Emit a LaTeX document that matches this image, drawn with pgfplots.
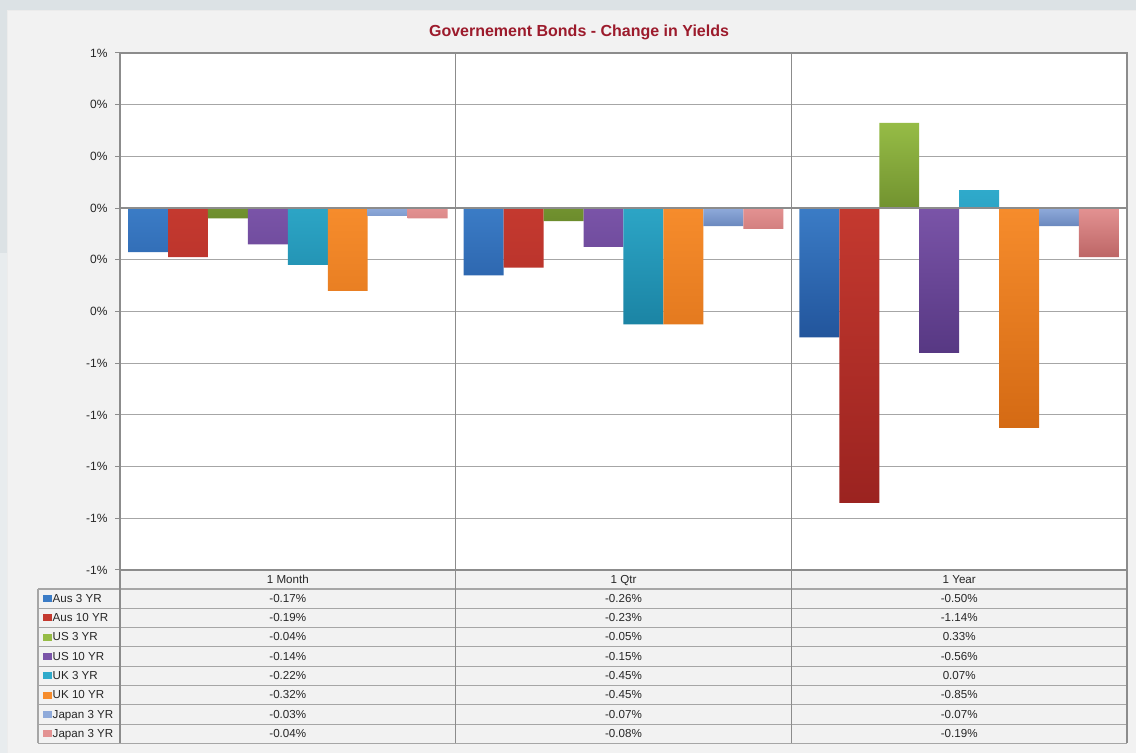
\documentclass[border=0pt]{standalone}
\usepackage{pgfplots}
\pgfplotsset{compat=1.18}
\usepackage{pgfplotstable}
\usepackage{fontspec}
\setmainfont{Liberation Sans}

\definecolor{outerbg}{HTML}{DCE2E5}
\definecolor{outerlow}{HTML}{E8ECEE}
\definecolor{chartbg}{HTML}{F2F2F2}
\definecolor{gridc}{HTML}{A6A6A6}
\definecolor{axisc}{HTML}{8C8C8C}
\definecolor{titlec}{HTML}{9C1B2C}
\definecolor{ausA}{HTML}{3B7CC6}\definecolor{ausB}{HTML}{22559C}
\definecolor{ausTA}{HTML}{C4392F}\definecolor{ausTB}{HTML}{9B2320}
\definecolor{usA}{HTML}{96BC46}\definecolor{usB}{HTML}{6C8C2C}
\definecolor{usTA}{HTML}{7A54A8}\definecolor{usTB}{HTML}{573883}
\definecolor{ukA}{HTML}{2FAACB}\definecolor{ukB}{HTML}{1B84A4}
\definecolor{ukTA}{HTML}{F68C2C}\definecolor{ukTB}{HTML}{D46A14}
\definecolor{jpA}{HTML}{8FAADA}\definecolor{jpB}{HTML}{6A88BE}
\definecolor{jpTA}{HTML}{E39292}\definecolor{jpTB}{HTML}{BD6666}

\pgfplotstableread{
cat aus3 aus10 us3 us10 uk3 uk10 jp3 jp3b
0 -0.17 -0.19 -0.04 -0.14 -0.22 -0.32 -0.03 -0.04
1 -0.26 -0.23 -0.05 -0.15 -0.45 -0.45 -0.07 -0.08
2 -0.50 -1.14 0.33 -0.56 0.07 -0.85 -0.07 -0.19
}\datatable

\begin{document}
\begin{tikzpicture}[x=1pt,y=1pt]
\useasboundingbox (0,0) rectangle (1136,753);
\fill[outerbg] (0,0) rectangle (1136,753);
\fill[outerlow] (0,0) rectangle (7,500);
\fill[chartbg] (7,0) rectangle (1136,743);
\draw[white!85!gray, line width=0.6pt] (7,0) -- (7,743) -- (1136,743);
\node[font=\bfseries\fontsize{16}{18}\selectfont, text=titlec] at (579,721) {Governement Bonds - Change in Yields};

\begin{axis}[
  at={(120pt,183pt)}, anchor=south west,
  scale only axis, width=1007pt, height=517pt,
  xmin=-0.5, xmax=2.5, ymin=-1.4, ymax=0.6,
  axis background/.style={fill=white},
  xtick=\empty,
  ytick={-1.4,-1.2,-1,-0.8,-0.6,-0.4,-0.2,0,0.2,0.4,0.6},
  yticklabels={-1\%,-1\%,-1\%,-1\%,-1\%,0\%,0\%,0\%,0\%,0\%,1\%},
  ytick pos=left, tick align=outside, major tick length=5pt,
  ytick style={draw=axisc, line width=1pt},
  yticklabel style={font=\fontsize{12}{14}\selectfont, text=black!85, xshift=-4pt},
  ymajorgrids, grid style={draw=gridc, line width=1pt},
  axis line style={draw=axisc, line width=1.3pt},
  ybar=0pt, bar width=0.119,
  clip=false,
]
\addplot[draw=none, top color=ausA, bottom color=ausB] table[x=cat,y=aus3]{\datatable};
\addplot[draw=none, top color=ausTA, bottom color=ausTB] table[x=cat,y=aus10]{\datatable};
\addplot[draw=none, top color=usA, bottom color=usB] table[x=cat,y=us3]{\datatable};
\addplot[draw=none, top color=usTA, bottom color=usTB] table[x=cat,y=us10]{\datatable};
\addplot[draw=none, top color=ukA, bottom color=ukB] table[x=cat,y=uk3]{\datatable};
\addplot[draw=none, top color=ukTA, bottom color=ukTB] table[x=cat,y=uk10]{\datatable};
\addplot[draw=none, top color=jpA, bottom color=jpB] table[x=cat,y=jp3]{\datatable};
\addplot[draw=none, top color=jpTA, bottom color=jpTB] table[x=cat,y=jp3b]{\datatable};
\draw[axisc, line width=1.3pt] (axis cs:-0.5,0) -- (axis cs:2.5,0);
\end{axis}

% data table
\def\rh{19.3}
\begin{scope}[font=\fontsize{11.6}{13}\selectfont, every node/.style={text height=8.6pt, text depth=2.4pt, inner sep=0pt, text=black!85}]
\draw[axisc, line width=1.3pt] (120,183) -- (1127,183);
\foreach \i in {0,...,8}{
  \draw[gridc, line width=1.1pt] (38,{164-\i*\rh}) -- (1127,{164-\i*\rh});
}
\draw[gridc, line width=1.1pt] (38,164) -- (38,{164-8*\rh});
\draw[axisc, line width=1.3pt] (120,183) -- (120,{164-8*\rh});
\draw[axisc, line width=1.3pt] (455.7,700) -- (455.7,{164-8*\rh});
\draw[axisc, line width=1.3pt] (791.3,700) -- (791.3,{164-8*\rh});
\draw[axisc, line width=1.3pt] (1127,183) -- (1127,{164-8*\rh});
\node at (287.8,173) {1 Month};
\node at (623.5,173) {1 Qtr};
\node at (959.2,173) {1 Year};
\foreach \i/\nm/\ca/\cb/\va/\vb/\vc in {
  0/Aus 3 YR/ausA/ausB/-0.17\%/-0.26\%/-0.50\%,
  1/Aus 10 YR/ausTA/ausTB/-0.19\%/-0.23\%/-1.14\%,
  2/US 3 YR/usA/usB/-0.04\%/-0.05\%/0.33\%,
  3/US 10 YR/usTA/usTB/-0.14\%/-0.15\%/-0.56\%,
  4/UK 3 YR/ukA/ukB/-0.22\%/-0.45\%/0.07\%,
  5/UK 10 YR/ukTA/ukTB/-0.32\%/-0.45\%/-0.85\%,
  6/Japan 3 YR/jpA/jpB/-0.03\%/-0.07\%/-0.07\%,
  7/Japan 3 YR/jpTA/jpTB/-0.04\%/-0.08\%/-0.19\%}{
  \pgfmathsetmacro{\yy}{164-(\i+0.5)*\rh}
  \fill[\ca] (43,\yy-3.5) rectangle (52,\yy+3.5);
  \node[anchor=west] at (52.5,\yy-0.5) {\nm};
  \node at (287.8,\yy-0.5) {\va};
  \node at (623.5,\yy-0.5) {\vb};
  \node at (959.2,\yy-0.5) {\vc};
}
\end{scope}
\end{tikzpicture}
\end{document}
